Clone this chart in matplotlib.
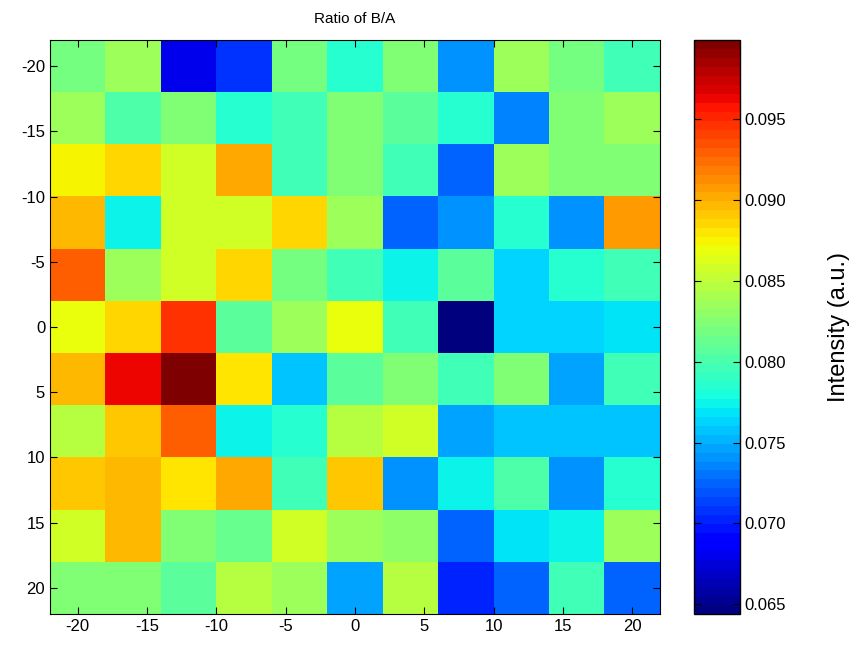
import numpy as np
from matplotlib import pyplot as plt

# Cell centres (both axes)
x_pos = [-20, -16, -12, -8, -4, 0, 4, 8, 12, 16, 20]
y_pos = [-20, -16, -12, -8, -4, 0, 4, 8, 12, 16, 20]

# Ratio B/A, one row per y position (top row is y = -20)
row_m20 = [0.0818, 0.0833, 0.0680, 0.0709, 0.0818, 0.0783, 0.0827, 0.0743, 0.0838, 0.0817, 0.0799]
row_m16 = [0.0838, 0.0804, 0.0826, 0.0788, 0.0794, 0.0822, 0.0810, 0.0788, 0.0733, 0.0824, 0.0836]
row_m12 = [0.0873, 0.0884, 0.0860, 0.0900, 0.0794, 0.0822, 0.0797, 0.0722, 0.0834, 0.0826, 0.0824]
row_m8 = [0.0894, 0.0772, 0.0855, 0.0855, 0.0888, 0.0838, 0.0727, 0.0743, 0.0783, 0.0743, 0.0907]
row_m4 = [0.0932, 0.0838, 0.0855, 0.0888, 0.0817, 0.0794, 0.0777, 0.0810, 0.0764, 0.0788, 0.0794]
row_0 = [0.0866, 0.0888, 0.0944, 0.0810, 0.0838, 0.0866, 0.0794, 0.0644, 0.0761, 0.0761, 0.0767]
row_4 = [0.0895, 0.0961, 0.0999, 0.0882, 0.0755, 0.0810, 0.0822, 0.0799, 0.0826, 0.0747, 0.0799]
row_8 = [0.0844, 0.0891, 0.0927, 0.0772, 0.0788, 0.0849, 0.0860, 0.0748, 0.0758, 0.0755, 0.0755]
row_12 = [0.0891, 0.0895, 0.0878, 0.0900, 0.0794, 0.0891, 0.0743, 0.0777, 0.0804, 0.0743, 0.0788]
row_16 = [0.0860, 0.0895, 0.0826, 0.0811, 0.0855, 0.0838, 0.0831, 0.0727, 0.0767, 0.0777, 0.0834]
row_20 = [0.0827, 0.0822, 0.0805, 0.0849, 0.0834, 0.0748, 0.0849, 0.0703, 0.0722, 0.0799, 0.0722]

cbar_ticks = [0.065, 0.070, 0.075, 0.080, 0.085, 0.090, 0.095]

plt.rcParams['font.family'] = ['Liberation Sans', 'DejaVu Sans']
plt.rcParams['axes.unicode_minus'] = False

data = np.array([row_m20, row_m16, row_m12, row_m8, row_m4, row_0,
                 row_4, row_8, row_12, row_16, row_20])

half = (x_pos[1] - x_pos[0]) / 2.0
extent = [x_pos[0] - half, x_pos[-1] + half, y_pos[-1] + half, y_pos[0] - half]

fig = plt.figure(figsize=(8.59, 6.51), dpi=100)
ax = fig.add_axes([50/859, 1 - 614/651, 610/859, 574/651])
cax = fig.add_axes([694/859, 1 - 614/651, 46/859, 574/651])

im = ax.imshow(data, cmap=plt.get_cmap('jet', 64), extent=extent,
               aspect='auto', interpolation='nearest',
               vmin=data.min(), vmax=data.max())

ax.set_xticks([-20, -15, -10, -5, 0, 5, 10, 15, 20])
ax.set_yticks([-20, -15, -10, -5, 0, 5, 10, 15, 20])
ax.tick_params(direction='in', top=True, right=True, labelsize=12, length=5)
ax.set_title("Ratio of B/A", fontsize=11, pad=12)

cb = fig.colorbar(im, cax=cax, ticks=cbar_ticks)
cb.ax.set_yticklabels(["%.3f" % t for t in cbar_ticks])
cb.ax.tick_params(direction='in', left=True, right=True, labelsize=12, length=5)
cb.set_label("Intensity (a.u.)", fontsize=17, labelpad=30)
cb.outline.set_linewidth(1)

fig.savefig("out.png", dpi=100)
